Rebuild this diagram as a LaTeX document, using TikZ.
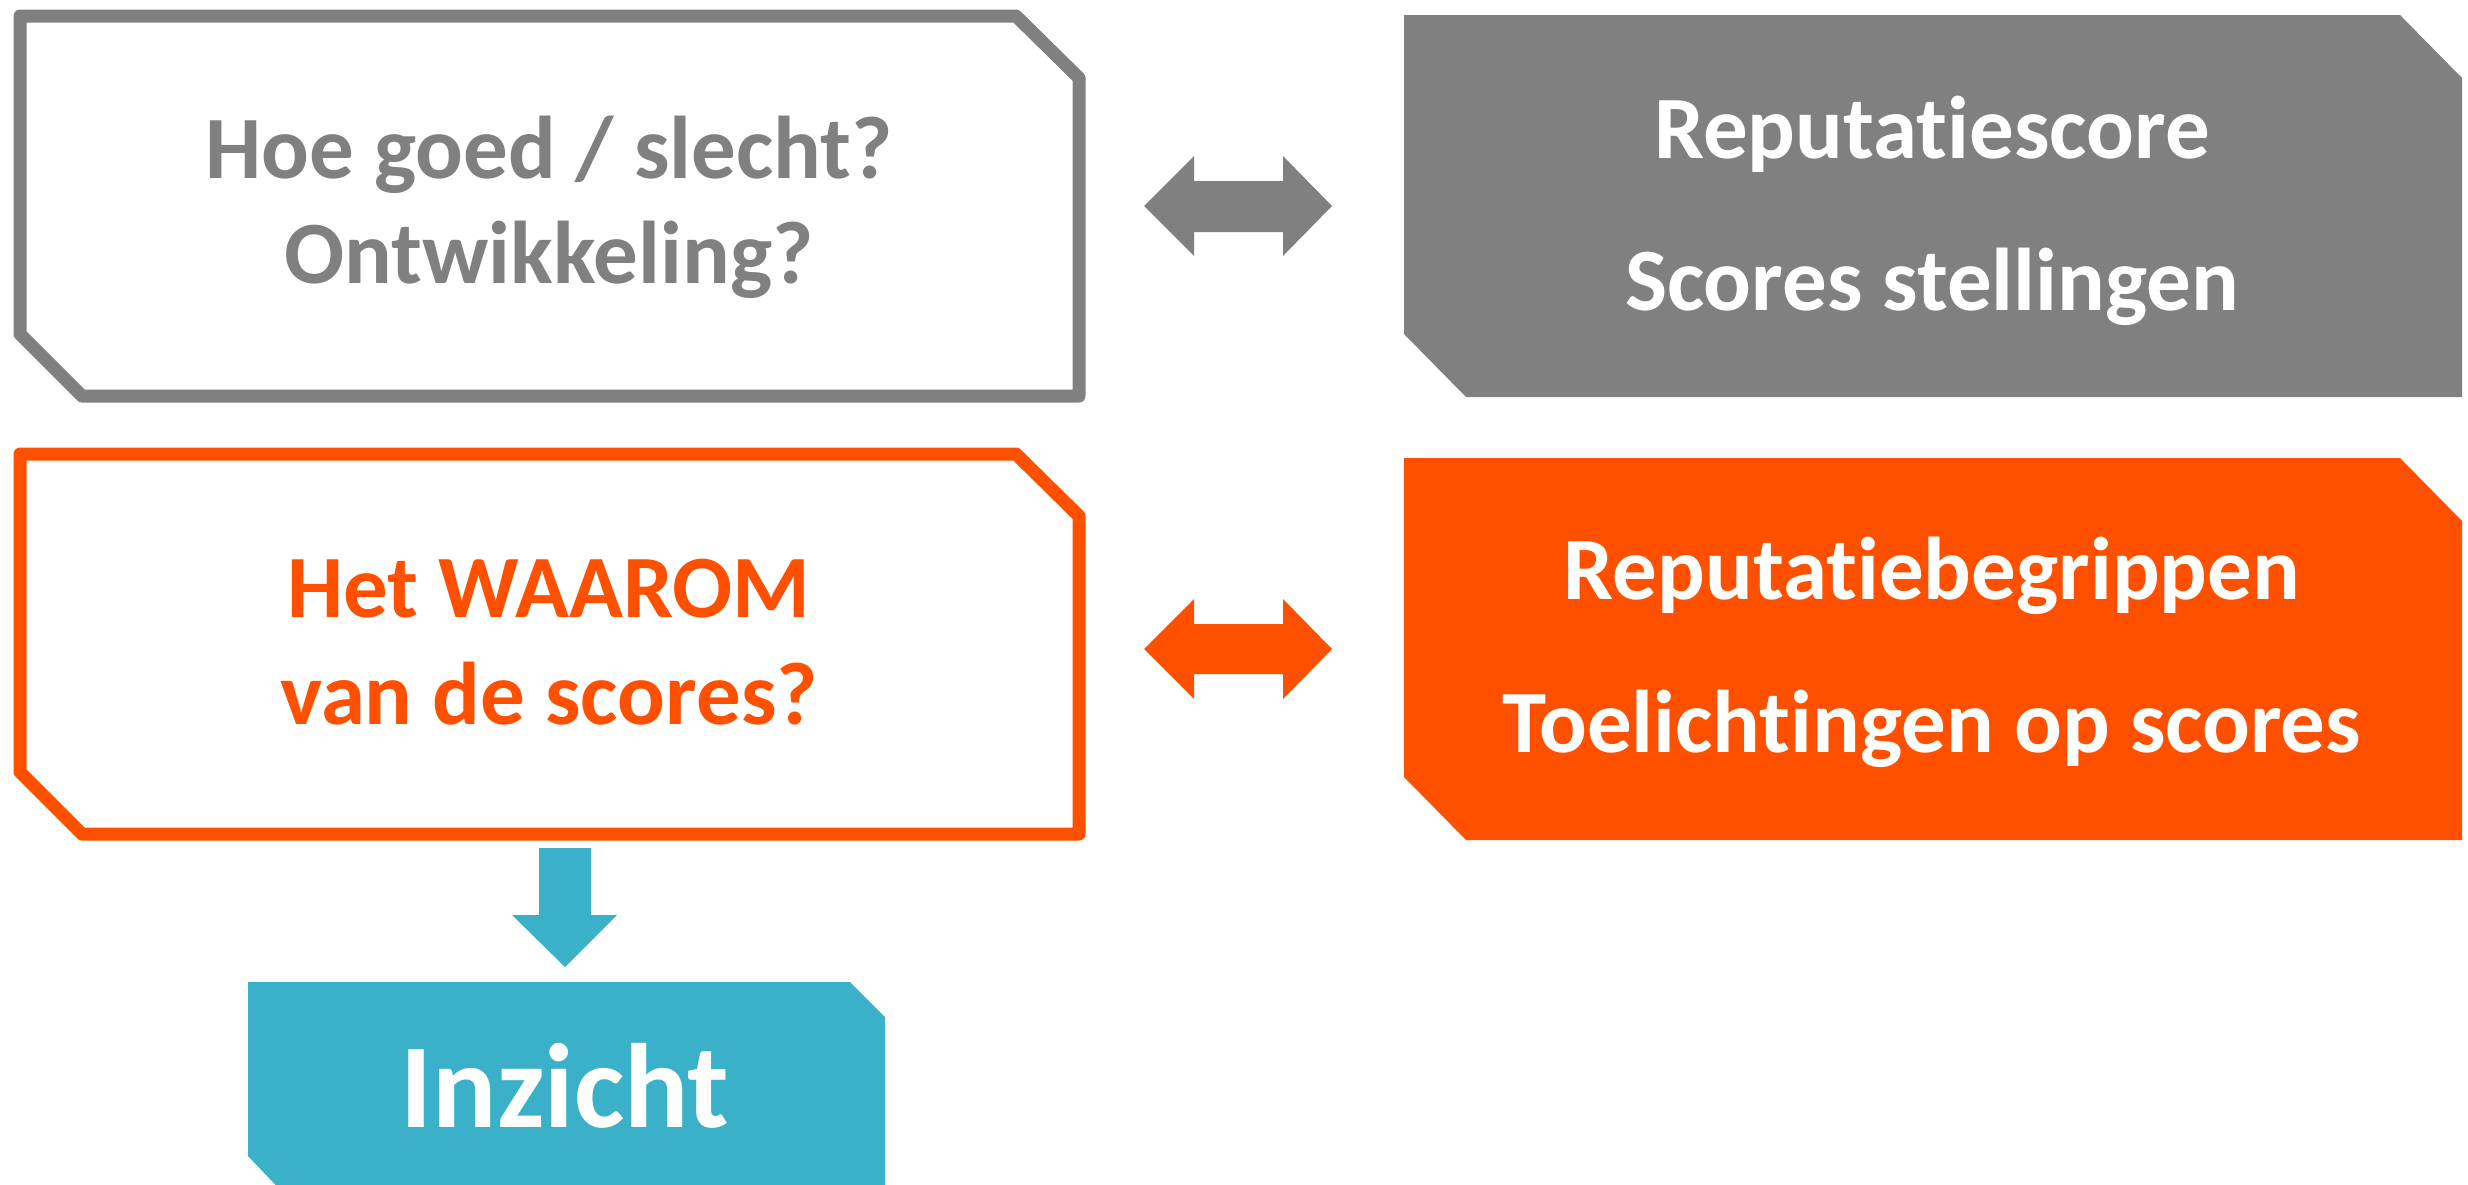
\documentclass[tikz,border=0pt]{standalone}
\usepackage{fontspec}
\setmainfont[Ligatures=NoCommon]{Carlito}
\definecolor{cgray}{RGB}{128,128,128}
\definecolor{corange}{RGB}{255,80,0}
\definecolor{cteal}{RGB}{59,176,201}
\begin{document}
\begin{tikzpicture}[x=1pt,y=-1pt,
  outl/.style={line width=13pt,line join=round,fill=white},
  lbl/.style={anchor=base,font=\fontsize{89}{100}\selectfont\bfseries,inner sep=0pt},
  big/.style={anchor=base,font=\fontsize{120}{130}\selectfont\bfseries,inner sep=0pt}]
\useasboundingbox (0,0) rectangle (2468,1184);
% outline boxes
\draw[outl,draw=cgray] (20,16) -- (1016,16) -- (1079,78) -- (1079,396) -- (82,396) -- (20,334) -- cycle;
\draw[outl,draw=corange] (20,454) -- (1016,454) -- (1079,516) -- (1079,834) -- (82,834) -- (20,772) -- cycle;
% filled boxes
\fill[cgray] (1404,15) -- (2400,15) -- (2462,78) -- (2462,397) -- (1466,397) -- (1404,334) -- cycle;
\fill[corange] (1404,458) -- (2400,458) -- (2462,521) -- (2462,840) -- (1466,840) -- (1404,777) -- cycle;
\fill[cteal] (248,982) -- (850,982) -- (885,1017) -- (885,1200) -- (290,1200) -- (248,1156) -- cycle;
% texts
\node[lbl,text=cgray] (t1a) at (549,178) {Hoe goed / slecht?};
\node[lbl,text=cgray] (t1b) at (549,283) {Ontwikkeling?};
\node[lbl,text=corange] (t2a) at (549,617) {Het WAAROM};
\node[lbl,text=corange] (t2b) at (549,724) {van de scores?};
\node[lbl,text=white] (t3a) at (1932,158) {Reputatiescore};
\node[lbl,text=white] (t3b) at (1932,310) {Scores stellingen};
\node[lbl,text=white] (t4a) at (1932,599) {Reputatiebegrippen};
\node[lbl,text=white] (t4b) at (1932,752) {Toelichtingen op scores};
\node[big,text=white] (t5) at (565,1127) {Inzicht};
% double arrows
\fill[cgray] (1144,206) -- (1194,156) -- (1194,181) -- (1283,181) -- (1283,156) -- (1332,206) -- (1283,256) -- (1283,232) -- (1194,232) -- (1194,256) -- cycle;
\fill[corange] (1144,649) -- (1194,599) -- (1194,624) -- (1283,624) -- (1283,599) -- (1332,649) -- (1283,699) -- (1283,674) -- (1194,674) -- (1194,699) -- cycle;
% down arrow
\fill[cteal] (539,848) -- (591,848) -- (591,915) -- (617,915) -- (565,967) -- (512,915) -- (539,915) -- cycle;
\end{tikzpicture}
\end{document}
